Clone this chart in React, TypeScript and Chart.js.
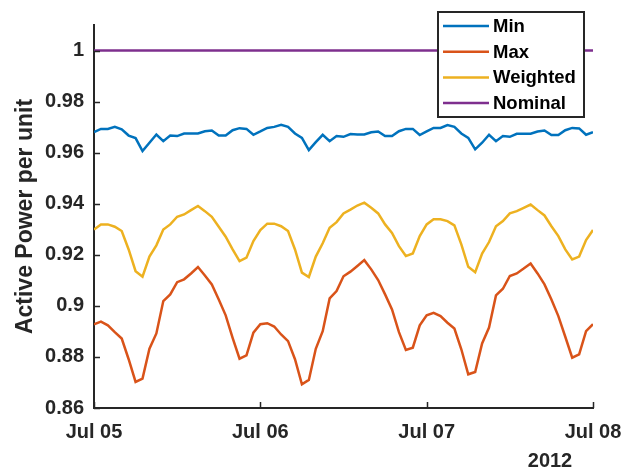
import React, { useEffect, useRef } from "react";
import { Chart, registerables } from "chart.js";

Chart.register(...registerables);

// ---- Data (hourly samples, Jul 05 00:00 to Jul 08 00:00, 2012) ----
const minValues = [
  0.968, 0.9693, 0.9693, 0.9701, 0.9691, 0.9667, 0.9657, 0.9606, 0.9639, 0.9671,
  0.9645, 0.9667, 0.9665, 0.9675, 0.9675, 0.9675, 0.9684, 0.9687, 0.9667, 0.9667,
  0.9688, 0.9696, 0.9693, 0.967, 0.9683, 0.9697, 0.9701, 0.9709, 0.9701, 0.9675,
  0.9658, 0.961, 0.9641, 0.967, 0.9645, 0.9665, 0.9662, 0.9673, 0.9671, 0.9671,
  0.968, 0.9683, 0.9665, 0.9665, 0.9684, 0.9693, 0.9693, 0.9669, 0.9683, 0.9697,
  0.9697, 0.9708, 0.9701, 0.9675, 0.9658, 0.9613, 0.9639, 0.967, 0.9645, 0.9665,
  0.9662, 0.9674, 0.9674, 0.9674, 0.9683, 0.9687, 0.9669, 0.9669, 0.9688, 0.9697,
  0.9695, 0.967, 0.968,
];

const maxValues = [
  0.8928, 0.8938, 0.8924, 0.8897, 0.8872, 0.8791, 0.8702, 0.8715, 0.8832, 0.8892,
  0.9019, 0.9045, 0.9093, 0.9104, 0.9127, 0.9152, 0.9119, 0.9084, 0.9025, 0.8963,
  0.8875, 0.8793, 0.8806, 0.8895, 0.8928, 0.8932, 0.8919, 0.8888, 0.8862, 0.8791,
  0.8693, 0.871, 0.8832, 0.8901, 0.9029, 0.9058, 0.9116, 0.9134, 0.9156, 0.9179,
  0.9143, 0.9101, 0.9045, 0.8986, 0.8897, 0.8827, 0.8836, 0.8924, 0.8963, 0.8973,
  0.896, 0.8934, 0.8911, 0.883, 0.8732, 0.8741, 0.8853, 0.8915, 0.9041, 0.9067,
  0.9117, 0.9127, 0.9146, 0.9166, 0.9127, 0.9084, 0.9025, 0.896, 0.8879, 0.8797,
  0.881, 0.8901, 0.8928,
];

const weightedValues = [
  0.9299, 0.9319, 0.9319, 0.931, 0.9293, 0.9221, 0.9136, 0.9114, 0.9193, 0.9237,
  0.9299, 0.9319, 0.9349, 0.9358, 0.9375, 0.9391, 0.9371, 0.9349, 0.931, 0.9271,
  0.9221, 0.9175, 0.9189, 0.9254, 0.9297, 0.9322, 0.9322, 0.9312, 0.9293, 0.9221,
  0.913, 0.9113, 0.9193, 0.9245, 0.9306, 0.9328, 0.9362, 0.9377, 0.9393, 0.9404,
  0.9384, 0.9362, 0.9319, 0.9286, 0.9234, 0.9195, 0.9205, 0.9273, 0.9319, 0.9339,
  0.9339, 0.9332, 0.9315, 0.9241, 0.9153, 0.9132, 0.9205, 0.925, 0.9312, 0.9332,
  0.9362, 0.9371, 0.9384, 0.9397, 0.9375, 0.9354, 0.9312, 0.9273, 0.9221, 0.9182,
  0.9193, 0.9258, 0.9297,
];

const nominalHours = [0, 72];
const nominalValues = [1, 1];

const xTickHours = [0, 24, 48, 72];
const xTickLabels = ["Jul 05", "Jul 06", "Jul 07", "Jul 08"];
const yearLabel = "2012";
const yTickValues = [0.86, 0.88, 0.9, 0.92, 0.94, 0.96, 0.98, 1];
const yTickLabels = ["0.86", "0.88", "0.9", "0.92", "0.94", "0.96", "0.98", "1"];
const seriesNames = ["Min", "Max", "Weighted", "Nominal"];
const yTitle = "Active Power per unit";

const COLORS = ["#0072BD", "#D95319", "#EDB120", "#7E2F8E"];
const AXIS = "#262626";
const FONT = "'Liberation Sans', Arial, Helvetica, sans-serif";

const toPoints = (vals: number[]) => vals.map((v, i) => ({ x: i, y: v }));

const decorPlugin = {
  id: "matlabDecor",
  afterDraw(chart: any) {
    const { ctx, chartArea } = chart;
    const xs = chart.scales.x;
    const ys = chart.scales.y;
    ctx.save();
    // inward tick marks
    ctx.strokeStyle = AXIS;
    ctx.lineWidth = 1.5;
    ctx.beginPath();
    ys.ticks.forEach((t: any) => {
      const py = Math.round(ys.getPixelForValue(t.value)) + 0.5;
      ctx.moveTo(chartArea.left, py);
      ctx.lineTo(chartArea.left + 6, py);
    });
    xs.ticks.forEach((t: any) => {
      const px = Math.round(xs.getPixelForValue(t.value)) + 0.5;
      ctx.moveTo(px, chartArea.bottom);
      ctx.lineTo(px, chartArea.bottom - 6);
    });
    ctx.stroke();

    // year label
    ctx.fillStyle = AXIS;
    ctx.font = `bold 20px ${FONT}`;
    ctx.textAlign = "center";
    ctx.textBaseline = "middle";
    ctx.fillText(yearLabel, xs.getPixelForValue(72) - 43, chartArea.bottom + 53);

    // legend box
    const boxW = 146;
    const boxH = 105;
    const bx = chartArea.right - 155;
    const by = chartArea.top - 13;
    ctx.fillStyle = "#ffffff";
    ctx.fillRect(bx, by, boxW, boxH);
    ctx.strokeStyle = AXIS;
    ctx.lineWidth = 2;
    ctx.strokeRect(bx, by, boxW, boxH);
    ctx.font = `bold 18.5px ${FONT}`;
    ctx.textAlign = "left";
    chart.data.datasets.forEach((ds: any, i: number) => {
      const cy = by + 14 + i * 25.7;
      ctx.strokeStyle = ds.borderColor;
      ctx.lineWidth = 2.5;
      ctx.beginPath();
      ctx.moveTo(bx + 5, cy);
      ctx.lineTo(bx + 51, cy);
      ctx.stroke();
      ctx.fillStyle = "#000000";
      ctx.fillText(ds.label, bx + 55, cy + 1);
    });
    ctx.restore();
  },
};

export default function App() {
  const canvasRef = useRef<HTMLCanvasElement | null>(null);

  useEffect(() => {
    if (!canvasRef.current) return;
    const chart = new Chart(canvasRef.current, {
      type: "line",
      data: {
        datasets: [
          { label: seriesNames[0], data: toPoints(minValues), borderColor: COLORS[0] },
          { label: seriesNames[1], data: toPoints(maxValues), borderColor: COLORS[1] },
          { label: seriesNames[2], data: toPoints(weightedValues), borderColor: COLORS[2] },
          {
            label: seriesNames[3],
            data: nominalHours.map((h, i) => ({ x: h, y: nominalValues[i] })),
            borderColor: COLORS[3],
          },
        ],
      },
      options: {
        animation: false,
        responsive: true,
        maintainAspectRatio: false,
        layout: { padding: { top: 25, right: 44, bottom: 0, left: 0 } },
        elements: {
          line: { borderWidth: 2.5, tension: 0 },
          point: { radius: 0, hoverRadius: 0 },
        },
        plugins: {
          legend: { display: false },
          tooltip: { enabled: false },
        },
        scales: {
          x: {
            type: "linear",
            min: 0,
            max: 72,
            grid: { display: false, drawTicks: false },
            border: { display: true, color: AXIS, width: 2 },
            afterBuildTicks: (scale: any) => {
              scale.ticks = xTickHours.map((v) => ({ value: v }));
            },
            afterFit: (scale: any) => {
              scale.height = 62;
            },
            ticks: {
              padding: 12,
              maxRotation: 0,
              autoSkip: false,
              color: AXIS,
              font: { family: FONT, size: 20, weight: "bold" },
              callback: (v: any) => {
                const idx = xTickHours.indexOf(Number(v));
                return idx >= 0 ? xTickLabels[idx] : "";
              },
            },
          },
          y: {
            type: "linear",
            min: 0.86,
            max: 1.01,
            grid: { display: false, drawTicks: false },
            border: { display: true, color: AXIS, width: 2 },
            afterBuildTicks: (scale: any) => {
              scale.ticks = yTickValues.map((v) => ({ value: v }));
            },
            afterFit: (scale: any) => {
              scale.width = 94;
            },
            title: {
              display: true,
              text: yTitle,
              color: AXIS,
              font: { family: FONT, size: 23, weight: "bold" },
              padding: { top: 12, bottom: 0 },
            },
            ticks: {
              padding: 10,
              color: AXIS,
              font: { family: FONT, size: 20, weight: "bold" },
              callback: (v: any) => {
                const idx = yTickValues.findIndex((t) => Math.abs(t - Number(v)) < 1e-9);
                return idx >= 0 ? yTickLabels[idx] : "";
              },
            },
          },
        },
      },
      plugins: [decorPlugin],
    });
    return () => chart.destroy();
  }, []);

  return (
    <div style={{ position: "fixed", left: 0, top: 0, width: 637, height: 470, background: "#fff" }}>
      <canvas ref={canvasRef} />
    </div>
  );
}
